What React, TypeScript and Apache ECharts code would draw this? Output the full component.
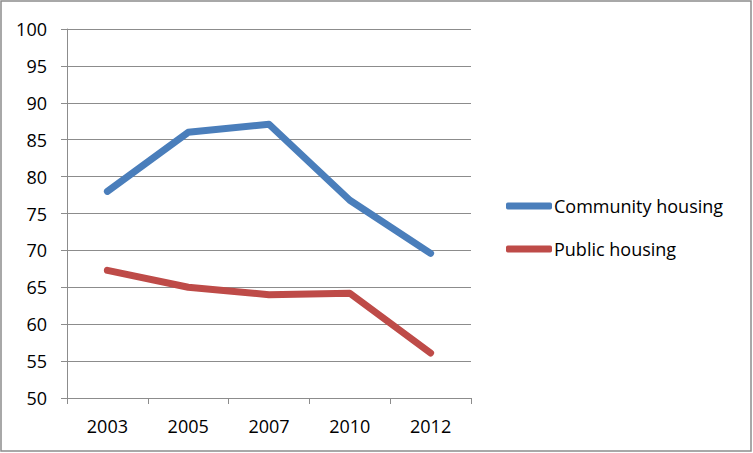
import React, { useEffect, useRef } from "react";
import * as echarts from "echarts";

const years = ["2003", "2005", "2007", "2010", "2012"];
const communityHousing = [78, 86, 87.1, 76.8, 69.6];
const publicHousing = [67.3, 65.0, 64.0, 64.2, 56.1];

const FONT = "'Open Sans', 'Noto Sans', sans-serif";

export default function App() {
  const ref = useRef<HTMLDivElement>(null);
  useEffect(() => {
    if (!ref.current) return;
    const chart = echarts.init(ref.current, undefined, { renderer: "svg" });
    chart.setOption({
      animation: false,
      backgroundColor: "#ffffff",
      textStyle: { fontFamily: FONT },
      graphic: [
        {
          type: "rect",
          shape: { x: 1, y: 1, width: 750, height: 450 },
          style: { fill: "none", stroke: "#8c8c8c", lineWidth: 1.5 },
          silent: true,
        },
      ],
      grid: { left: 67, top: 29, right: 282, bottom: 55 },
      legend: {
        orient: "vertical",
        left: 501,
        top: 192,
        itemWidth: 46,
        itemHeight: 7,
        itemGap: 25,
        icon: "roundRect",
        textStyle: { fontSize: 18, color: "#000", fontFamily: FONT, padding: [0, 0, 0, -3] },
        data: ["Community housing", "Public housing"],
      },
      xAxis: {
        type: "category",
        data: years,
        boundaryGap: true,
        axisLine: { lineStyle: { color: "#8c8c8c", width: 1 } },
        axisTick: { show: true, length: 6, lineStyle: { color: "#8c8c8c" } },
        axisLabel: { color: "#000", fontSize: 18, margin: 19, fontFamily: FONT },
      },
      yAxis: {
        type: "value",
        min: 50,
        max: 100,
        interval: 5,
        axisLine: { show: true, lineStyle: { color: "#8c8c8c", width: 1 } },
        axisTick: { show: true, length: 6, lineStyle: { color: "#8c8c8c" } },
        axisLabel: { color: "#000", fontSize: 18, margin: 20, fontFamily: FONT },
        splitLine: { show: true, lineStyle: { color: "#8c8c8c", width: 1 } },
      },
      series: [
        {
          name: "Community housing",
          type: "line",
          data: communityHousing,
          showSymbol: false,
          symbol: "none",
          color: "#4a7ebb",
          lineStyle: { width: 7, color: "#4a7ebb", cap: "round", join: "round" },
        },
        {
          name: "Public housing",
          type: "line",
          data: publicHousing,
          showSymbol: false,
          symbol: "none",
          color: "#be4b48",
          lineStyle: { width: 7, color: "#be4b48", cap: "round", join: "round" },
        },
      ],
    });
    return () => chart.dispose();
  }, []);
  return (
    <div
      ref={ref}
      style={{ position: "absolute", left: 0, top: 0, width: 753, height: 453 }}
    />
  );
}
